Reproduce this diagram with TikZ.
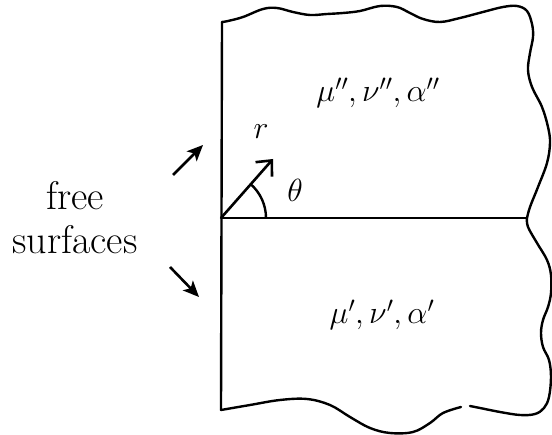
\RequirePackage{fix-cm}
\documentclass[tikz,border=0pt]{standalone}
\usetikzlibrary{arrows.meta}
\begin{document}
\begin{tikzpicture}[x=1pt,y=-1pt,
  edge/.style={line width=2.4pt,line join=round,line cap=round},
  pointer/.style={line width=2.6pt,-{Stealth[length=16pt,width=14pt,inset=4pt]}},
  rvec/.style={line width=2.6pt,-{Straight Barb[length=12pt,width=22pt,line width=2.6pt]}},
  lbl/.style={inner sep=0pt,font=\fontsize{40}{44}\selectfont,align=center},
  mlbl/.style={inner sep=0pt,font=\fontsize{32}{38}\selectfont}]
\useasboundingbox (0,0) rectangle (552,435);
% key points
\coordinate (TL) at (222,22);
\coordinate (BL) at (221,410);
\coordinate (O) at (221,218);
\coordinate (E) at (527,218);
\coordinate (R) at (273,159);
% outline
\draw[edge] plot[smooth,tension=0.6] coordinates {
 (TL) (228,21) (243,17) (263,9) (277,8) (293,12) (310,15) (327,14) (343,13) (360,11)
 (380,6) (397,7) (410,13) (423,19) (440,22) (460,18) (483,12) (503,7) (517,6)
 (527,11) (532,24) (533,37) (530,53) (528,70) (532,87) (542,107) (548,127)
 (550,143) (547,163) (538,187) (530,207) (E)};
\draw[edge] plot[smooth,tension=0.6] coordinates {
 (E) (528,227) (537,243) (547,260) (551,275) (551,293) (548,307) (543,320)
 (541,333) (543,347) (549,360) (551,377) (549,397) (544,408) (535,414)
 (520,415) (500,412) (480,408) (470,406)};
\draw[edge] (TL) -- (BL);
\draw[edge] plot[smooth,tension=0.6] coordinates {
 (BL) (250,405) (280,400) (307,399) (330,405) (350,417) (370,428) (390,433)
 (413,432) (430,423) (443,413) (461,407)};
% interface
\draw[edge] (O) -- (E);
% r vector and angle
\draw[rvec] (O) -- (R);
\draw[line width=2.4pt] ([xshift=45pt]O) arc[start angle=0,end angle=-49,radius=45];
\node[mlbl] (rl) at (261,132) {$r$};
\node[mlbl] (th) at (295,190) {$\theta$};
% material labels
\node[mlbl] (up) at (378,93) {$\mu'',\nu'',\alpha''$};
\node[mlbl] (lo) at (382,315) {$\mu',\nu',\alpha'$};
% free surfaces
\node[lbl] (fs) at (75,218) {free\\surfaces};
\coordinate (a1) at (173,175);
\coordinate (a1t) at (203,145);
\coordinate (a2) at (170,267);
\coordinate (a2t) at (199,297);
\draw[pointer] (a1) -- (a1t);
\draw[pointer] (a2) -- (a2t);
\end{tikzpicture}
\end{document}
